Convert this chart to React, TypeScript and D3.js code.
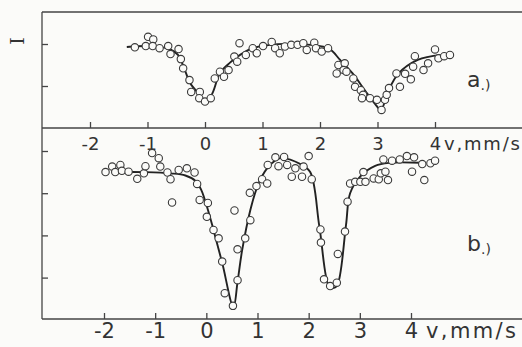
import * as d3 from "d3";
import { useEffect, useRef } from "react";

const WIDTH = 522;
const HEIGHT = 347;

const velocityTicks = [-2, -1, 0, 1, 2, 3, 4];
const unitLabel = "v,mm/s";
const axisLabel = "I";
const topYTicks = [0.9, 1.0];
const bottomYTicks = [0.7, 0.8, 0.9, 1.0];

// spectrum a.) : measured points [v mm/s, relative intensity]
const pointsA: [number, number][] = [
    [-1.22, 0.992], [-1.03, 0.995], [-0.99, 1.017], [-0.9, 1.011], [-0.91, 0.995], [-0.79, 0.99],
    [-0.64, 0.995], [-0.6, 0.976], [-0.46, 0.988], [-0.42, 0.964], [-0.38, 0.942], [-0.27, 0.914],
    [-0.24, 0.886], [-0.09, 0.886], [-0.1, 0.871], [0.0, 0.863], [0.1, 0.871], [0.17, 0.918],
    [0.26, 0.934], [0.33, 0.922], [0.41, 0.938], [0.51, 0.97], [0.56, 0.958], [0.6, 1.002],
    [0.71, 0.974], [0.83, 0.99], [0.9, 0.978], [1.01, 0.995], [1.16, 1.005], [1.22, 0.99],
    [1.3, 0.978], [1.39, 0.994], [1.5, 0.998], [1.61, 0.998], [1.71, 1.002], [1.77, 0.986],
    [1.9, 1.003], [1.93, 0.99], [2.03, 0.982], [2.14, 0.99], [2.32, 0.95], [2.43, 0.954],
    [2.29, 0.93], [2.41, 0.938], [2.46, 0.934], [2.58, 0.918], [2.61, 0.898], [2.71, 0.89],
    [2.75, 0.879], [2.73, 0.871], [2.87, 0.871], [2.99, 0.867], [3.13, 0.867], [3.07, 0.843],
    [3.16, 0.879], [3.2, 0.895], [3.33, 0.93], [3.39, 0.898], [3.48, 0.929], [3.58, 0.916],
    [3.62, 0.946], [3.65, 0.971], [3.8, 0.938], [3.88, 0.954], [4.0, 0.987], [4.06, 0.966],
    [4.16, 0.971], [4.26, 0.974],
];

// spectrum a.) : fitted curve
const fitA: [number, number][] = [
    [-1.36, 0.993], [-0.96, 0.995], [-0.61, 0.988], [-0.47, 0.974], [-0.35, 0.938], [-0.26, 0.907],
    [-0.09, 0.879], [0.03, 0.86], [0.14, 0.886], [0.26, 0.931], [0.43, 0.955], [0.61, 0.974],
    [0.83, 0.99], [1.13, 0.998], [1.48, 1.0], [2.14, 0.99], [2.35, 0.962], [2.56, 0.931],
    [2.78, 0.89], [2.96, 0.857], [3.06, 0.843], [3.18, 0.886], [3.36, 0.929], [3.7, 0.962],
    [4.1, 0.974],
];

// spectrum b.) : measured points
const pointsB: [number, number][] = [
    [-1.97, 0.95], [-1.84, 0.963], [-1.78, 0.95], [-1.68, 0.967], [-1.65, 0.953], [-1.52, 0.951],
    [-1.35, 0.934], [-1.22, 0.947], [-1.19, 0.964], [-1.06, 0.995], [-0.93, 0.983], [-0.9, 0.963],
    [-0.76, 0.949], [-0.7, 0.933], [-0.54, 0.955], [-0.38, 0.959], [-0.23, 0.949], [-0.67, 0.878],
    [-0.18, 0.922], [-0.13, 0.884], [0.03, 0.877], [0.01, 0.844], [0.14, 0.813], [0.24, 0.793],
    [0.31, 0.738], [0.36, 0.663], [0.52, 0.633], [0.61, 0.694], [0.61, 0.767], [0.76, 0.793],
    [0.86, 0.836], [0.55, 0.859], [0.85, 0.901], [0.98, 0.917], [1.09, 0.933], [1.19, 0.923],
    [1.2, 0.967], [1.35, 0.985], [1.41, 0.964], [1.52, 0.986], [1.58, 0.967], [1.67, 0.939],
    [1.74, 0.959], [1.87, 0.939], [1.9, 0.963], [2.0, 0.988], [2.06, 0.933], [2.23, 0.814],
    [2.24, 0.783], [2.3, 0.696], [2.42, 0.68], [2.55, 0.688], [2.57, 0.756], [2.71, 0.809],
    [2.76, 0.88], [2.81, 0.923], [2.91, 0.927], [3.01, 0.927], [3.07, 0.95], [3.11, 0.927],
    [3.27, 0.935], [3.37, 0.933], [3.41, 0.947], [3.5, 0.951], [3.55, 0.931], [3.46, 0.98],
    [3.63, 0.977], [3.78, 0.98], [3.92, 0.988], [4.06, 0.985], [4.02, 0.951], [4.22, 0.969],
    [4.26, 0.931], [4.38, 0.971], [4.47, 0.977],
];

// spectrum b.) : fitted curve
const fitB: [number, number][] = [
    [-1.84, 0.951], [-1.19, 0.95], [-0.7, 0.947], [-0.41, 0.942], [-0.21, 0.929], [-0.1, 0.908],
    [0.02, 0.865], [0.14, 0.813], [0.31, 0.735], [0.53, 0.63], [0.61, 0.69], [0.7, 0.765],
    [0.86, 0.86], [0.98, 0.91], [1.09, 0.941], [1.29, 0.972], [1.45, 0.983], [1.84, 0.969],
    [2.03, 0.95], [2.21, 0.82], [2.4, 0.678], [2.48, 0.675], [2.56, 0.682], [2.73, 0.825],
    [2.81, 0.9], [3.01, 0.94], [3.3, 0.965], [3.59, 0.972], [4.18, 0.972],
];

const INK = "#2e2e2e";
const PAPER = "#fbfbf9";
const FONT = "'DejaVu Sans', sans-serif";

export default function App() {
    const svgRef = useRef<SVGSVGElement | null>(null);

    useEffect(() => {
        if (!svgRef.current) return;
        const svg = d3.select(svgRef.current);
        svg.selectAll("*").remove();

        const frame = { left: 42, top: 12, mid: 128, bottom: 319, right: 522 };

        const xA = d3.scaleLinear().domain([-2, 4]).range([90, 435]);
        const yA = d3.scaleLinear().domain([0.9, 1.0]).range([86, 44]);
        const xB = d3.scaleLinear().domain([-2, 4]).range([104, 411]);
        const yB = d3.scaleLinear().domain([0.7, 1.0]).range([277.6, 151]);

        svg.append("rect").attr("width", WIDTH).attr("height", HEIGHT).attr("fill", PAPER);

        // frame lines
        const frameLines = [
            [frame.left, frame.top, frame.right, frame.top],
            [frame.left, frame.top, frame.left, frame.bottom],
            [frame.left, frame.mid, frame.right, frame.mid],
            [frame.left, frame.bottom, frame.right, frame.bottom],
        ];
        svg.selectAll("line.frame")
            .data(frameLines)
            .enter()
            .append("line")
            .attr("class", "frame")
            .attr("x1", (d) => d[0])
            .attr("y1", (d) => d[1])
            .attr("x2", (d) => d[2])
            .attr("y2", (d) => d[3])
            .attr("stroke", "#444")
            .attr("stroke-width", 1.3);

        const styleAxis = (g: d3.Selection<SVGGElement, unknown, null, undefined>, size: number, spacing: number) => {
            g.select(".domain").remove();
            g.selectAll("line").attr("stroke", "#444").attr("stroke-width", 1.3);
            g.selectAll("text")
                .attr("fill", "#333")
                .attr("font-family", FONT)
                .attr("font-size", size)
                .attr("letter-spacing", spacing);
        };

        // velocity axis of a.)
        const axA = svg
            .append("g")
            .attr("transform", `translate(0,${frame.mid})`)
            .call(d3.axisBottom(xA).tickValues(velocityTicks).tickSize(-6).tickPadding(9).tickFormat((d) => String(d)));
        styleAxis(axA, 18, 0);
        svg.append("text")
            .attr("x", xA(4) + 9)
            .attr("y", frame.mid + 9)
            .attr("dy", "0.71em")
            .attr("fill", "#333")
            .attr("font-family", FONT)
            .attr("font-size", 18)
            .attr("letter-spacing", 1.8)
            .text(unitLabel);

        // velocity axis of b.)
        const axB = svg
            .append("g")
            .attr("transform", `translate(0,${frame.bottom})`)
            .call(d3.axisBottom(xB).tickValues(velocityTicks).tickSize(-6).tickPadding(4).tickFormat((d) => String(d)));
        styleAxis(axB, 21, 0);
        svg.append("text")
            .attr("x", xB(4) + 15)
            .attr("y", frame.bottom + 4)
            .attr("dy", "0.71em")
            .attr("fill", "#333")
            .attr("font-family", FONT)
            .attr("font-size", 21)
            .attr("letter-spacing", 2.4)
            .text(unitLabel);

        // intensity ticks
        const ayA = svg
            .append("g")
            .attr("transform", `translate(${frame.left},0)`)
            .call(d3.axisRight(yA).tickValues(topYTicks).tickSize(6).tickFormat(() => ""));
        styleAxis(ayA, 10, 0);
        const ayB = svg
            .append("g")
            .attr("transform", `translate(${frame.left},0)`)
            .call(d3.axisRight(yB).tickValues(bottomYTicks).tickSize(6).tickFormat(() => ""));
        styleAxis(ayB, 10, 0);

        svg.append("text")
            .attr("transform", `translate(24,${yA(1.0) - 3}) rotate(-90)`)
            .attr("text-anchor", "middle")
            .attr("fill", "#333")
            .attr("font-family", "'DejaVu Serif', serif")
            .attr("font-size", 19)
            .text(axisLabel);

        const drawSpectrum = (
            fit: [number, number][],
            points: [number, number][],
            x: d3.ScaleLinear<number, number>,
            y: d3.ScaleLinear<number, number>
        ) => {
            const line = d3
                .line<[number, number]>()
                .x((d) => x(d[0]))
                .y((d) => y(d[1]))
                .curve(d3.curveCatmullRom.alpha(0.5));
            svg.append("path")
                .attr("d", line(fit) ?? "")
                .attr("fill", "none")
                .attr("stroke", "#222")
                .attr("stroke-width", 1.9);
            svg.append("g")
                .selectAll("circle")
                .data(points)
                .enter()
                .append("circle")
                .attr("cx", (d) => x(d[0]))
                .attr("cy", (d) => y(d[1]))
                .attr("r", 3.7)
                .attr("fill", PAPER)
                .attr("stroke", "#3a3a3a")
                .attr("stroke-width", 1.1);
        };
        drawSpectrum(fitA, pointsA, xA, yA);
        drawSpectrum(fitB, pointsB, xB, yB);

        // panel tags
        const tags = [
            { letter: "a", x: 467, y: 87 },
            { letter: "b", x: 467, y: 251 },
        ];
        tags.forEach((t) => {
            const txt = svg
                .append("text")
                .attr("x", t.x)
                .attr("y", t.y)
                .attr("fill", "#333")
                .attr("font-family", FONT)
                .attr("font-size", 22);
            txt.append("tspan").text(t.letter);
            txt.append("tspan").attr("font-size", 14).attr("dy", 3).text(".)");
        });
    }, []);

    return (
        <svg
            ref={svgRef}
            width={WIDTH}
            height={HEIGHT}
            style={{ position: "absolute", left: 0, top: 0, display: "block" }}
        />
    );
}
